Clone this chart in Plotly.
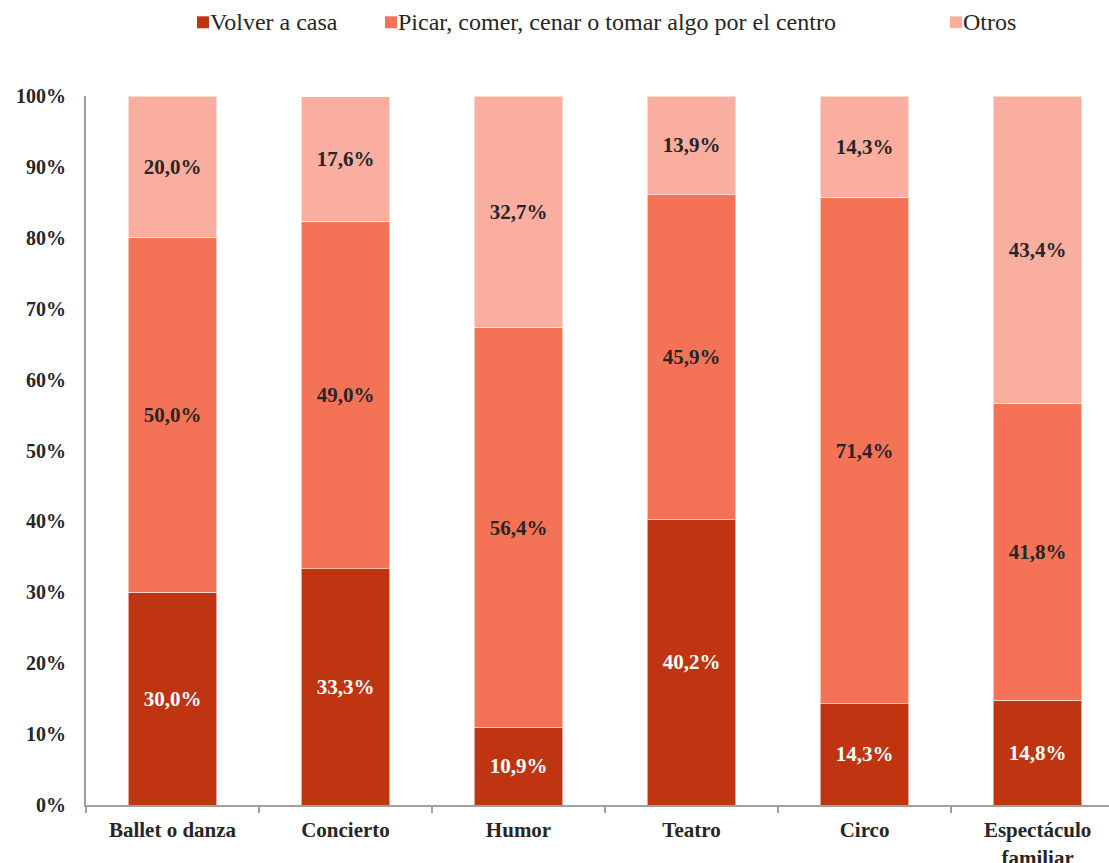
import plotly.graph_objects as go

categories = ["Ballet o danza", "Concierto", "Humor", "Teatro", "Circo", "Espectáculo<br>familiar"]
volver_a_casa = [30.0, 33.3, 10.9, 40.2, 14.3, 14.8]
picar_comer = [50.0, 49.0, 56.4, 45.9, 71.4, 41.8]
otros = [20.0, 17.6, 32.7, 13.9, 14.3, 43.4]

series = [
    ("Volver a casa", volver_a_casa, "#C03511", "#FFFFFF"),
    ("Picar, comer, cenar o tomar algo por el centro", picar_comer, "#F47356", "#262626"),
    ("Otros", otros, "#F9AEA0", "#262626"),
]

SERIF = "Liberation Serif"
# left edge of each legend entry's swatch, in plot-width fractions
LEGEND_X = [0.1085, 0.2923, 0.8446]


def pct_label(v):
    return f"{v:.1f}".replace(".", ",") + "%"


fig = go.Figure()
for name, values, color, txt_color in series:
    fig.add_trace(go.Bar(
        name=name,
        x=categories,
        y=values,
        width=0.51,
        marker=dict(color=color, line=dict(color="rgba(255,255,255,0.55)", width=1)),
        text=[pct_label(v) for v in values],
        textposition="inside",
        insidetextanchor="middle",
        textangle=0,
        textfont=dict(family=SERIF, size=21, color=txt_color, weight="bold"),
        hoverinfo="skip",
        showlegend=False,
    ))

# Legend row drawn as swatches + serif labels above the plot
for (name, _, color, _), lx in zip(series, LEGEND_X):
    fig.add_shape(
        type="rect", xref="paper", yref="paper",
        x0=lx, x1=lx + 0.0117, y0=1.0955, y1=1.1124,
        fillcolor=color, line=dict(width=0),
    )
    fig.add_annotation(
        text=name, xref="paper", yref="paper",
        x=lx + 0.0117, y=1.104, xanchor="left", yanchor="middle",
        showarrow=False, borderpad=0,
        font=dict(family=SERIF, size=24, color="#262626", weight="normal"),
    )

fig.update_layout(
    template="none",
    barmode="stack",
    width=1109,
    height=863,
    margin=dict(l=86, r=0, t=96, b=58, autoexpand=False),
    paper_bgcolor="white",
    plot_bgcolor="white",
    font=dict(family=SERIF, color="#262626", size=22),
    uniformtext=dict(minsize=21, mode="show"),
    showlegend=False,
    xaxis=dict(
        range=[-0.5, 5.413],
        showline=True,
        linecolor="#A0A0A0",
        linewidth=2,
        ticks="outside",
        tickson="boundaries",
        ticklen=6,
        tickcolor="#A0A0A0",
        tickwidth=2,
        ticklabelstandoff=5,
        tickfont=dict(family=SERIF, size=21, color="#262626", weight="bold"),
        showgrid=False,
        zeroline=False,
    ),
    yaxis=dict(
        range=[0, 100],
        showline=True,
        linecolor="#A0A0A0",
        linewidth=2,
        tickmode="array",
        tickvals=list(range(0, 101, 10)),
        ticktext=[f"{v}%" for v in range(0, 101, 10)],
        ticks="",
        ticklabelstandoff=14,
        tickfont=dict(family=SERIF, size=20, color="#262626", weight="bold"),
        showgrid=False,
        zeroline=False,
    ),
)

fig.write_html("out.html")
